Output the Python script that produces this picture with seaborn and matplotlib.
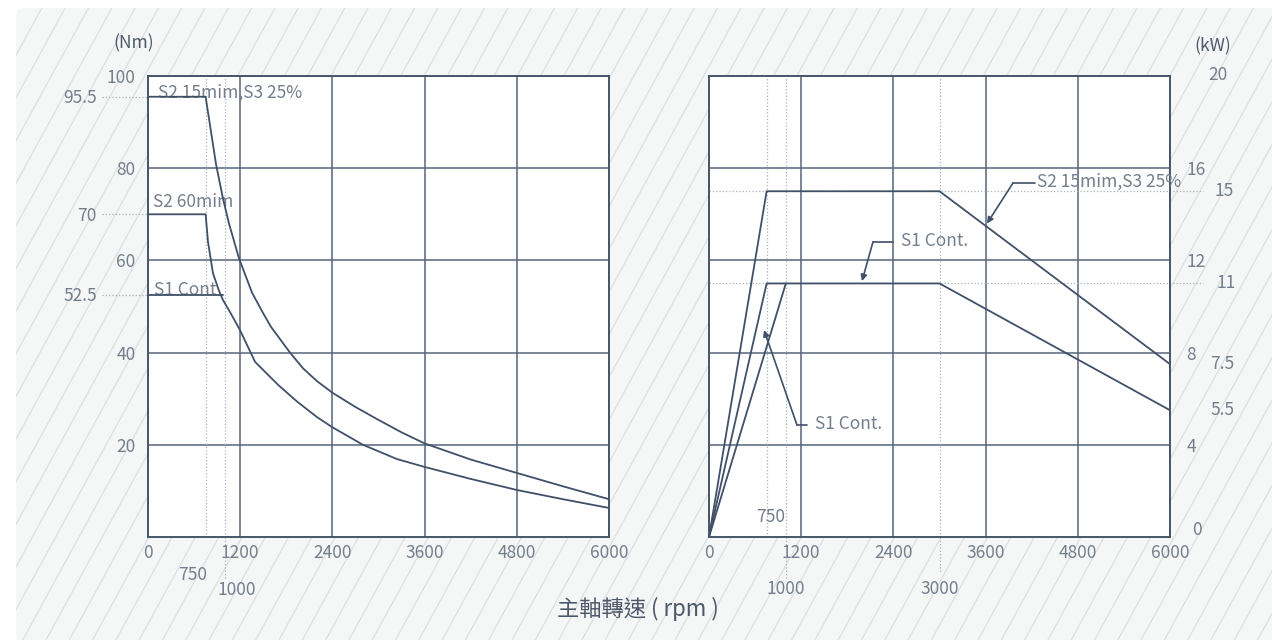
import numpy as np
import pandas as pd
import matplotlib
matplotlib.use("Agg")
import matplotlib.pyplot as plt
import seaborn as sns
from matplotlib.patches import FancyBboxPatch

# torque curves (left panel), rpm -> Nm
rpm_s2_15 = [0, 750, 885, 976, 1054, 1185, 1354, 1500, 1600, 1848, 2017, 2200, 2400, 2700,
             3000, 3300, 3600, 4200, 4800, 5400, 6000]
torque_s2_15 = [95.5, 95.5, 80.9, 73.4, 68.0, 60.4, 53.0, 48.5, 45.6, 40.0, 36.6, 33.8, 31.3, 28.2,
                25.4, 22.7, 20.3, 16.8, 13.9, 11.0, 8.2]

rpm_s2_60 = [0, 750, 781, 846, 924, 976, 1067, 1197, 1393, 1549, 1700, 1939, 2200, 2400, 2798,
             3241, 3600, 4200, 4800, 5400, 6000]
torque_s2_60 = [70, 70, 64.0, 57.2, 53.4, 51.4, 48.8, 44.9, 38.0, 35.4, 32.9, 29.4, 26.0, 23.8, 20.0,
                16.9, 15.2, 12.6, 10.2, 8.2, 6.3]

rpm_s1 = [0, 980]
torque_s1 = [52.5, 52.5]

# power curves (right panel), rpm -> kW
rpm_pw = [0, 750, 3000, 6000]
kw_s2_15 = [0, 15, 15, 7.5]
kw_s1 = [0, 11, 11, 5.5]
rpm_pw_s1b = [0, 1000]
kw_s1b = [0, 11]

x_ticks = [0, 1200, 2400, 3600, 4800, 6000]
torque_ticks = [20, 40, 60, 80, 100]
power_ticks = [4, 8, 12, 16]
torque_refs = [95.5, 70, 52.5]
power_refs = [15, 11]
power_end_refs = [7.5, 5.5]
rpm_refs_left = [750, 1000]
rpm_refs_right = [750, 1000, 3000]

LINE = "#3f5068"
GRID = "#56667c"
TXT = "#747e8c"
DARK = "#4d596a"
DOT = "#a9b1bb"
FS = 12.5

sns.set_theme(style="white")
plt.rcParams["font.family"] = ["Noto Sans CJK TC", "DejaVu Sans"]

fig = plt.figure(figsize=(12.72, 6.4), dpi=100)

# background with diagonal hatch
bg = fig.add_axes([0, 0, 1, 1], zorder=-5)
bg.set_xlim(0, 1272)
bg.set_ylim(0, 640)
bg.axis("off")
patch = FancyBboxPatch((16, -20), 1280, 652, boxstyle="round,pad=0,rounding_size=9",
                       facecolor="#f5f6f6", edgecolor="none")
bg.add_patch(patch)
for c in np.arange(-420, 1300, 23.3):
    ln, = bg.plot([c, c + 640 / 1.83], [0, 640], color="#dcdfe1", lw=0.9)
    ln.set_clip_path(patch)

ax1 = fig.add_axes([148 / 1272, 103 / 640, 461 / 1272, 461 / 640])
ax2 = fig.add_axes([709 / 1272, 103 / 640, 461 / 1272, 461 / 640])

px = 0.72  # points per pixel

for ax in (ax1, ax2):
    ax.set_facecolor("white")
    ax.set_xlim(0, 6000)
    ax.set_xticks(x_ticks)
    ax.grid(True, color=GRID, lw=1.1)
    ax.tick_params(length=0, labelsize=FS, labelcolor=TXT, pad=5)
    for s in ax.spines.values():
        s.set_color("#465669")
        s.set_linewidth(1.4)

# left panel
df_t = pd.DataFrame({"rpm": rpm_s2_15, "T": torque_s2_15})
sns.lineplot(data=df_t, x="rpm", y="T", ax=ax1, color=LINE, lw=1.3, estimator=None, sort=False)
df_t2 = pd.DataFrame({"rpm": rpm_s2_60, "T": torque_s2_60})
sns.lineplot(data=df_t2, x="rpm", y="T", ax=ax1, color=LINE, lw=1.3, estimator=None, sort=False)
sns.lineplot(x=rpm_s1, y=torque_s1, ax=ax1, color=LINE, lw=1.3, estimator=None, sort=False)
ax1.set_ylim(0, 100)
ax1.set_yticks(torque_ticks)
ax1.tick_params(axis="y", pad=9)
ax1.set_xlabel("")
ax1.set_ylabel("")

for v in rpm_refs_left:
    ax1.axvline(v, color=DOT, ls=":", lw=0.9, zorder=1)
ax1.plot([1000, 1000], [0, -9], color=DOT, ls=":", lw=0.9, clip_on=False)
ax1.text(770, -8.3, "750", ha="right", va="center", fontsize=FS, color=TXT)
ax1.text(900, -11.6, "1000", ha="left", va="center", fontsize=FS, color=TXT)

for v in torque_refs:
    ax1.plot([-600, 0], [v, v], color=DOT, ls=":", lw=0.9, clip_on=False)
    ax1.annotate(f"{v:g}", xy=(0, v), xytext=(-51 * px, -1), textcoords="offset points",
                 ha="right", va="center", fontsize=FS, color=TXT, annotation_clip=False)

ax1.text(130, 96.3, "S2 15mim,S3 25%", ha="left", va="center", fontsize=FS, color=TXT, zorder=1)
ax1.text(65, 72.6, "S2 60mim", ha="left", va="center", fontsize=FS, color=TXT, zorder=1)
ax1.text(78, 53.6, "S1 Cont", ha="left", va="center", fontsize=FS, color=TXT, zorder=1)
ax1.text(-190, 107.0, "(Nm)", ha="center", va="center", fontsize=FS, color=DARK)

# right panel
df_p = pd.DataFrame({"rpm": rpm_pw, "a": kw_s2_15, "b": kw_s1})
sns.lineplot(data=df_p, x="rpm", y="a", ax=ax2, color=LINE, lw=1.3, estimator=None, sort=False)
sns.lineplot(data=df_p, x="rpm", y="b", ax=ax2, color=LINE, lw=1.3, estimator=None, sort=False)
sns.lineplot(x=rpm_pw_s1b, y=kw_s1b, ax=ax2, color=LINE, lw=1.3, estimator=None, sort=False)
ax2.set_ylim(0, 20)
ax2.set_yticks(power_ticks)
ax2.yaxis.tick_right()
ax2.tick_params(axis="y", pad=12)
ax2.set_xlabel("")
ax2.set_ylabel("")

for v in rpm_refs_right:
    ax2.axvline(v, color=DOT, ls=":", lw=0.9, zorder=1)
ax2.plot([1000, 1000], [0, -1.8], color=DOT, ls=":", lw=0.9, clip_on=False)
ax2.plot([3000, 3000], [0, -1.55], color=DOT, ls=":", lw=0.9, clip_on=False)
ax2.text(800, 0.87, "750", ha="center", va="center", fontsize=FS, color=TXT)
ax2.text(1000, -2.26, "1000", ha="center", va="center", fontsize=FS, color=TXT)
ax2.text(3000, -2.26, "3000", ha="center", va="center", fontsize=FS, color=TXT)

for v in power_refs:
    ax2.plot([0, 6430], [v, v], color=DOT, ls=":", lw=0.9, clip_on=False, zorder=1)
for v, xo in zip(power_refs + power_end_refs, [44, 46, 40, 40]):
    ax2.annotate(f"{v:g}", xy=(6000, v), xytext=(xo * px, 0), textcoords="offset points",
                 ha="left", va="center", fontsize=FS, color=TXT, annotation_clip=False)
ax2.annotate("20", xy=(6000, 20), xytext=(38 * px, 1), textcoords="offset points",
             ha="left", va="center", fontsize=FS, color=TXT, annotation_clip=False)
ax2.annotate("0", xy=(6000, 0), xytext=(22 * px, 5), textcoords="offset points",
             ha="left", va="center", fontsize=FS, color=TXT, annotation_clip=False)
ax2.text(6560, 21.3, "(kW)", ha="center", va="center", fontsize=FS, color=DARK)

# callouts
ax2.plot([4243, 3957], [15.36, 15.36], color=LINE, lw=1.2)
ax2.annotate("", xy=(3618, 13.6), xytext=(3957, 15.36),
             arrowprops=dict(arrowstyle="-|>", color=LINE, lw=1.2, mutation_scale=9, shrinkA=0, shrinkB=0))
ax2.text(4270, 15.4, "S2 15mim,S3 25%", ha="left", va="center", fontsize=FS, color=TXT)

ax2.plot([2395, 2134], [12.8, 12.8], color=LINE, lw=1.2)
ax2.annotate("", xy=(1991, 11.1), xytext=(2134, 12.8),
             arrowprops=dict(arrowstyle="-|>", color=LINE, lw=1.2, mutation_scale=9, shrinkA=0, shrinkB=0))
ax2.text(2500, 12.85, "S1 Cont.", ha="left", va="center", fontsize=FS, color=TXT)

ax2.plot([1275, 1145], [4.86, 4.86], color=LINE, lw=1.2)
ax2.annotate("", xy=(716, 8.98), xytext=(1145, 4.86),
             arrowprops=dict(arrowstyle="-|>", color=LINE, lw=1.2, mutation_scale=9, shrinkA=0, shrinkB=0))
ax2.text(1380, 4.9, "S1 Cont.", ha="left", va="center", fontsize=FS, color=TXT)

fig.text(638 / 1272, 1 - 609 / 640, "主軸轉速 ( rpm )", ha="center", va="center",
         fontsize=16, color=DARK)

fig.savefig("out.png", dpi=100)
